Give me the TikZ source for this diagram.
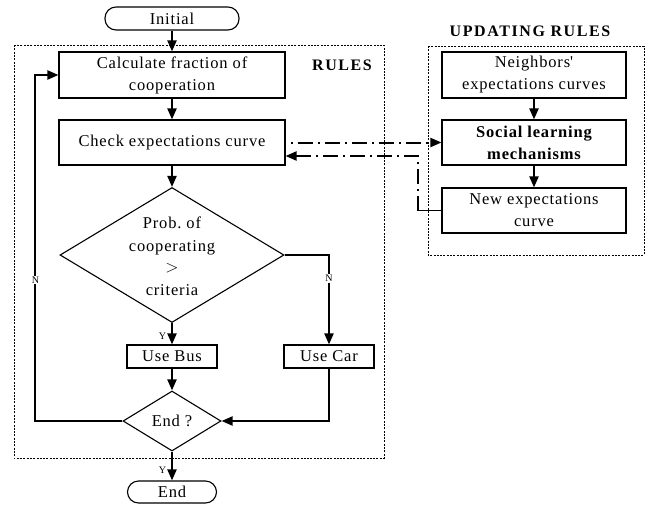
\documentclass[tikz,border=0pt]{standalone}
\usepackage{fontspec}
\setmainfont{Liberation Serif}[LetterSpace=5]
\usetikzlibrary{arrows.meta,shapes.geometric,calc}
\begin{document}
\begin{tikzpicture}[x=1pt,y=-1pt,
  every node/.style={font=\fontsize{16.5}{22}\selectfont},
  box/.style={draw,line width=1.1pt,inner sep=0pt,align=center},
  term/.style={draw,line width=1.1pt,rounded corners=11pt,inner sep=0pt},
  dec/.style={draw,line width=1.1pt,diamond,inner sep=0pt},
  tip/.style={-{Triangle[length=11pt,width=9pt]}},
  arr/.style={line width=2pt,tip},
  dd/.style={line width=2pt,dash pattern=on 15pt off 5pt on 2pt off 5pt},
  frame/.style={line width=1pt,dash pattern=on 2pt off 1.3pt},
  lab/.style={font=\fontsize{10}{11}\selectfont,fill=white,inner sep=1pt},
  head/.style={font=\fontsize{16}{18}\bfseries\selectfont\addfontfeature{LetterSpace=10}}
]
\useasboundingbox (0,0) rectangle (646,504);
% frames
\draw[frame] (14,45) rectangle (384,458);
\draw[frame] (428,46) rectangle (644,255);
\node[head] (rl) at (342,65) {RULES};
\node[head] (ul) at (530,31) {UPDATING RULES};
% left flow
\node[term,minimum width=134pt,minimum height=23pt] (init) at (172,18.5) {Initial};
\node[box,minimum width=226pt,minimum height=46pt] (calc) at (172,75) {Calculate fraction of\\cooperation};
\node[box,minimum width=226pt,minimum height=45pt] (check) at (172,142.5) {Check expectations curve};
\node[dec,minimum width=224pt,minimum height=135pt,aspect=1.66] (d1) at (172,255) {};
\node[align=center,inner sep=0pt,font=\fontsize{16.5}{23}\selectfont] (d1t) at (172,256) {Prob.\ of\\cooperating\\[-2pt]$>$\\criteria};
\node[box,minimum width=90pt,minimum height=23pt] (bus) at (172,356.5) {Use Bus};
\node[box,minimum width=90pt,minimum height=23pt] (car) at (329,356.5) {Use Car};
\node[dec,minimum width=98pt,minimum height=60pt,aspect=1.63] (endq) at (172,421) {End ?};
\node[term,minimum width=89pt,minimum height=22pt] (endt) at (172,492) {End};
% right flow
\node[box,minimum width=184pt,minimum height=46pt] (nb) at (534,75) {Neighbors{\addfontfeature{Ligatures=TeXOff}'}\\expectations curves};
\node[box,minimum width=184pt,minimum height=45pt,font=\fontsize{16.5}{22}\bfseries\selectfont] (soc) at (534,142.5) {Social learning\\mechanisms};
\node[box,minimum width=184pt,minimum height=45pt] (new) at (534,210.5) {New expectations\\curve};
% connectors
\draw[arr] (init) -- (calc);
\draw[arr] (calc) -- (check);
\draw[arr] (check) -- (d1.north);
\draw[arr] (d1.south) -- node[lab,fill=none,left=4pt,pos=0.62] {Y} (bus);
\draw[arr] (bus) -- (endq.north);
\draw[arr] (endq.south) -- node[lab,fill=none,left=4pt,pos=0.63] {Y} (endt);
\draw[arr] (d1.east) -| node[lab,pos=0.63] {N} (car.north);
\draw[arr] (car.south) |- (endq.east);
\draw[arr] (endq.west) -| node[lab,pos=0.704] {N} ($(calc.west)+(-23,0)$) -- (calc.west);
\draw[arr] (nb) -- (soc);
\draw[arr] (soc) -- (new);
\draw[dd,dash phase=15pt,tip] (check.east) -- (soc.west);
\coordinate (bend) at ($(new.west)+(-23,0)$);
\draw[line width=1.1pt] (new.west) -- (bend);
\draw[dd,tip] (bend) |- ([yshift=-13.5pt]check.east);
\end{tikzpicture}
\end{document}
